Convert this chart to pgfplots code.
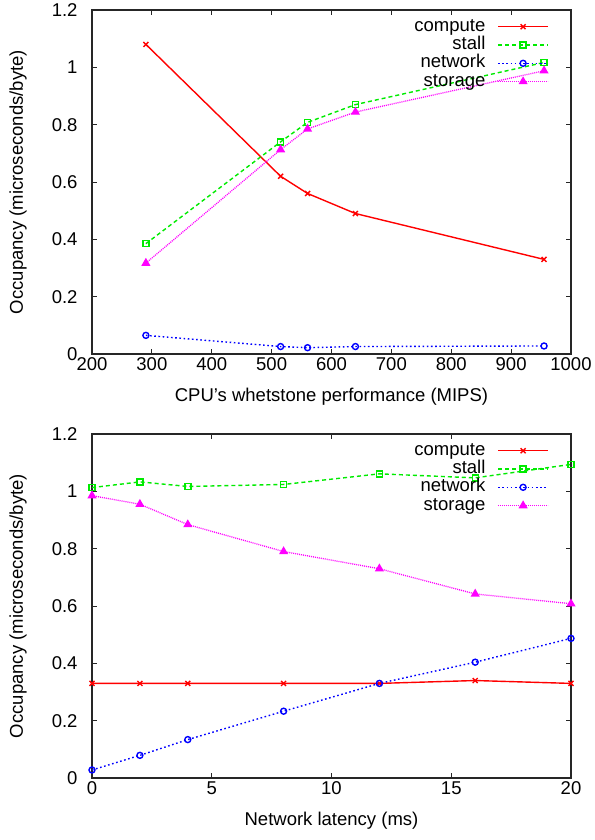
\documentclass[border=0pt]{standalone}
\usepackage{fontspec}
\setmainfont{Liberation Sans}
\usepackage{pgfplots}
\pgfplotsset{compat=1.18}
\definecolor{gpred}{RGB}{255,0,0}
\definecolor{gpgreen}{RGB}{0,235,0}
\definecolor{gpblue}{RGB}{0,0,255}
\definecolor{gpmag}{RGB}{255,0,255}
\newcommand\fs{\fontsize{18.5bp}{20bp}\selectfont}

\pgfplotsset{
  occ/.style={scale only axis,width=479bp,height=344bp,
    ymin=0,ymax=1.2,ytick={0,0.2,0.4,0.6,0.8,1,1.2},clip=false,
    tick align=inside,major tick length=5bp,
    axis line style={line width=1.1bp,black!85},tick style={line width=0.8bp,black!85},
    scaled ticks=false,
    /pgf/number format/assume math mode=true,/pgf/number format/1000 sep={},
    tick label style={font=\fs},label style={font=\fs},
    yticklabel style={xshift=-11bp},
    ylabel={Occupancy (microseconds/byte)},
    ylabel style={at={(axis description cs:0,0.5)},anchor=center,yshift=74bp},
    xlabel style={at={(axis description cs:0.5,0)},anchor=center,yshift=-43bp},
    legend plot pos=right,legend cell align=right,
    legend style={font=\fs,draw=none,fill=none,at={(1,1)},anchor=north east,
      xshift=-22bp,yshift=-9bp,inner sep=0pt,row sep=3.3bp,column sep=12bp,
      nodes={inner sep=0pt,text height=12bp,text depth=3bp}},
    legend image code/.code={\draw[mark repeat=2,mark phase=2]
      plot coordinates {(0bp,0bp) (25bp,0bp) (50bp,0bp)};},
  },
  pcomp/.style={gpred,line width=1.4bp,mark=x,mark size=3.5bp,mark options={solid}},
  pstall/.style={gpgreen,line width=1.4bp,dash pattern=on 4bp off 3bp,mark=square,mark size=3bp,mark options={solid}},
  pnet/.style={gpblue,line width=1.4bp,dash pattern=on 1.6bp off 2.6bp,mark=o,mark size=3bp,mark options={solid}},
  pstor/.style={gpmag,line width=1.3bp,dash pattern=on 1bp off 1bp,mark=triangle*,mark size=4bp,mark options={solid}},
}

\begin{document}
\begin{tikzpicture}
\useasboundingbox (-92bp,-486bp) rectangle (503bp,354bp);
\begin{axis}[occ,at={(0,0)},anchor=south west,
  xmin=200,xmax=1000,xtick={200,300,...,1000},
  xlabel={CPU’s whetstone performance (MIPS)}]
\addplot[pcomp] coordinates {(290,1.08) (515,0.62) (560,0.56) (640,0.49) (955,0.33)};
\addplot[pstall] coordinates {(290,0.385) (515,0.74) (560,0.808) (640,0.87) (955,1.017)};
\addplot[pnet] coordinates {(290,0.065) (515,0.026) (560,0.022) (640,0.026) (955,0.028)};
\addplot[pstor] coordinates {(290,0.317) (515,0.713) (560,0.785) (640,0.844) (955,0.988)};
\legend{compute,stall,network,storage}
\end{axis}
\begin{axis}[occ,at={(0,-424bp)},anchor=south west,
  xmin=0,xmax=20,xtick={0,5,10,15,20},
  xlabel={Network latency (ms)}]
\addplot[pcomp] coordinates {(0,0.33) (2,0.33) (4,0.33) (8,0.33) (12,0.33) (16,0.34) (20,0.33)};
\addplot[pstall] coordinates {(0,1.013) (2,1.033) (4,1.017) (8,1.024) (12,1.061) (16,1.047) (20,1.094)};
\addplot[pnet] coordinates {(0,0.028) (2,0.079) (4,0.134) (8,0.233) (12,0.33) (16,0.404) (20,0.487)};
\addplot[pstor] coordinates {(0,0.985) (2,0.955) (4,0.884) (8,0.790) (12,0.730) (16,0.642) (20,0.608)};
\legend{compute,stall,network,storage}
\end{axis}
\end{tikzpicture}
\end{document}
